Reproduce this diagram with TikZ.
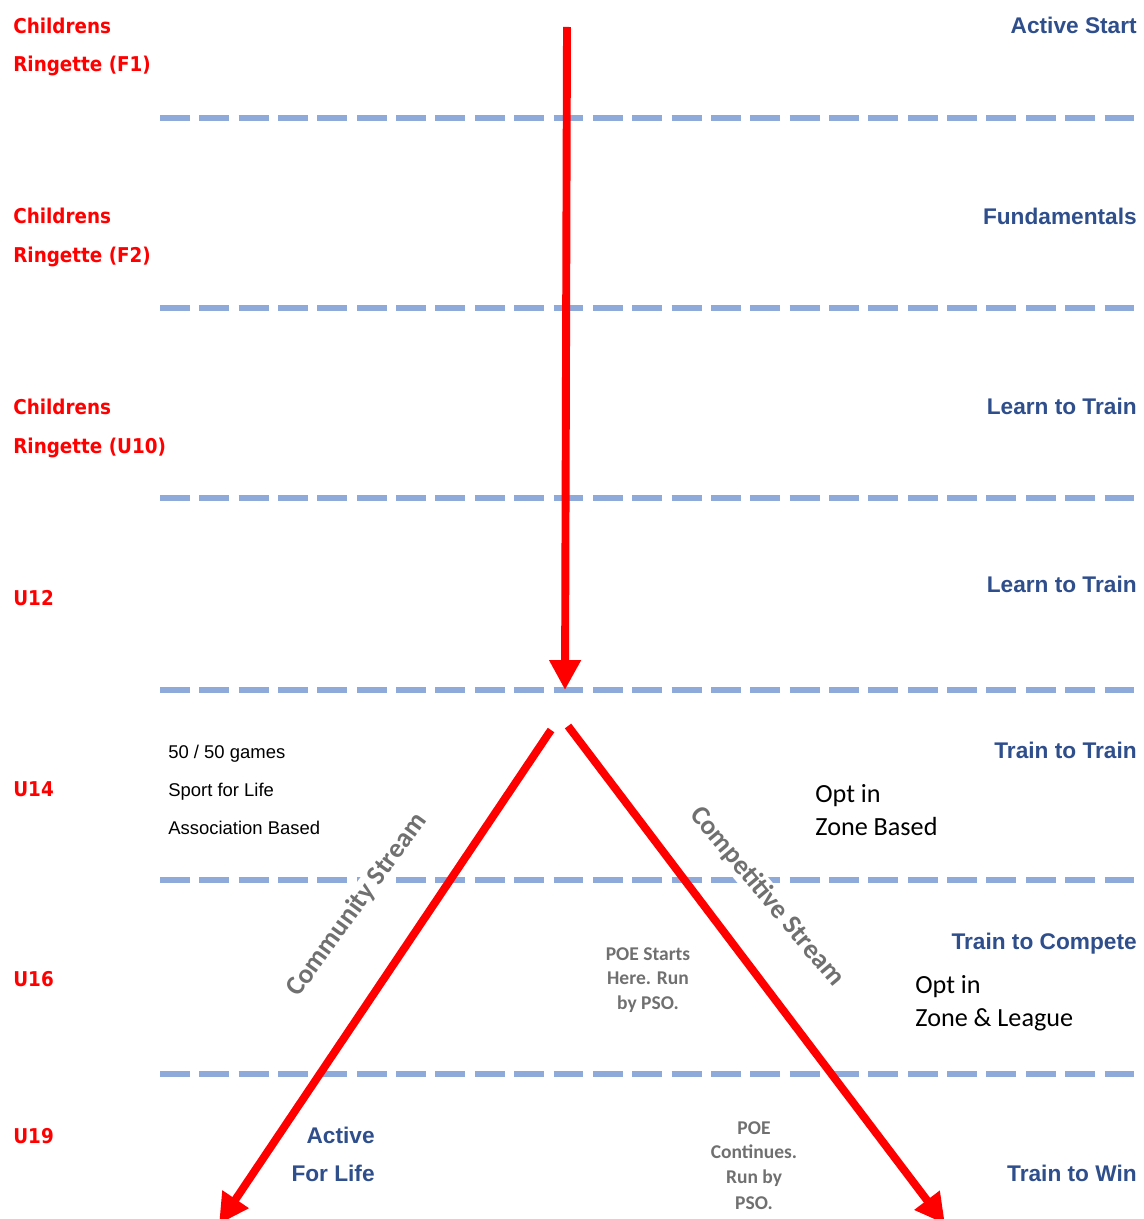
\documentclass[tikz,border=0pt]{standalone}
\usepackage{fontspec}
\setmainfont{Liberation Sans}
\newfontfamily\agefont[FakeStretch=0.9]{DejaVu Sans}
\newfontfamily\calfont{Carlito}
\usetikzlibrary{arrows.meta}
\definecolor{ringred}{RGB}{255,0,0}
\definecolor{stageblue}{RGB}{47,78,140}
\definecolor{lineblue}{RGB}{142,170,219}
\definecolor{poegray}{RGB}{112,112,112}

\begin{document}
\begin{tikzpicture}[x=0.02cm, y=-0.02cm,
	agegroup/.style={anchor=base west, inner sep=0, text=ringred, font=\agefont\bfseries\fontsize{11.6}{14}\selectfont},
	stage/.style={anchor=base east, inner sep=0, text=stageblue, font=\bfseries\fontsize{12.9}{15}\selectfont},
	note/.style={anchor=base west, inner sep=0, black, font=\fontsize{10.5}{12}\selectfont},
	optin/.style={anchor=base west, inner sep=0, black, font=\calfont\fontsize{14.9}{17}\selectfont},
	poe/.style={anchor=base, inner sep=0, text=poegray, font=\calfont\bfseries\fontsize{11.1}{13}\selectfont},
	streamlabel/.style={fill=white, inner sep=1pt, text=poegray, font=\calfont\bfseries\fontsize{15.5}{18}\selectfont},
	level/.style={draw=lineblue, line width=3.2pt, dash pattern=on 17pt off 5.4pt},
	stream/.style={draw=ringred, line width=4.5pt, -{Triangle[length=17pt,width=17pt]}}
	]
	\useasboundingbox (0,0) rectangle (1143,1219);
	
	\foreach \y in {118,308,498,690,880,1074} {
		\draw [level] (160,\y) -- (1143,\y);
	}
	
	% age groups
	\node (f1a) at (13,34) [agegroup] {Childrens};
	\node (f1b) at (13,72) [agegroup] {Ringette (F1)};
	\node (f2a) at (13,224) [agegroup] {Childrens};
	\node (f2b) at (13,263) [agegroup] {Ringette (F2)};
	\node (u10a) at (13,415) [agegroup] {Childrens};
	\node (u10b) at (13,453) [agegroup] {Ringette (U10)};
	\node (u12) at (13,605) [agegroup] {U12};
	\node (u14) at (13,796) [agegroup] {U14};
	\node (u16) at (13,986) [agegroup] {U16};
	\node (u19) at (13,1143) [agegroup] {U19};
	
	% stages
	\node (s1) at (1137,34) [stage] {Active Start};
	\node (s2) at (1137,225) [stage] {Fundamentals};
	\node (s3) at (1137,415) [stage] {Learn to Train};
	\node (s4) at (1137,592) [stage] {Learn to Train};
	\node (s5) at (1137,758) [stage] {Train to Train};
	\node (s6) at (1137,949) [stage] {Train to Compete};
	\node (s7) at (1137,1181) [stage] {Train to Win};
	\node (afl1) at (375,1143) [stage] {Active};
	\node (afl2) at (375,1181) [stage] {For Life};
	
	% notes
	\node (n1) at (168,758) [note] {50 / 50 games};
	\node (n2) at (168,796) [note] {Sport for Life};
	\node (n3) at (168,834) [note] {Association Based};
	\node (o1) at (815,802) [optin] {Opt in};
	\node (o2) at (815,835) [optin] {Zone Based};
	\node (o3) at (915,993) [optin] {Opt in};
	\node (o4) at (915,1026) [optin] {Zone \& League};
	
	\node (p1) at (648,960) [poe] {POE Starts};
	\node (p2) at (648,984) [poe] {Here. Run};
	\node (p3) at (648,1009) [poe] {by PSO.};
	\node (q1) at (754,1134) [poe] {POE};
	\node (q2) at (754,1158) [poe] {Continues.};
	\node (q3) at (754,1183) [poe] {Run by};
	\node (q4) at (754,1209) [poe] {PSO.};
	
	\node (community) at (357,905) [streamlabel, rotate=54] {Community Stream};
	\node (competitive) at (767,897) [streamlabel, rotate=-50] {Competitive Stream};
	
	% arrows
	\coordinate (top) at (567,27);
	\coordinate (split) at (565,690);
	\coordinate (cstart) at (551,730);
	\coordinate (cend) at (219,1224);
	\coordinate (kstart) at (568,726);
	\coordinate (kend) at (945,1224);
	\draw [stream] (top) -- (split);
	\draw [stream] (cstart) -- (cend);
	\draw [stream] (kstart) -- (kend);
\end{tikzpicture}
\end{document}
